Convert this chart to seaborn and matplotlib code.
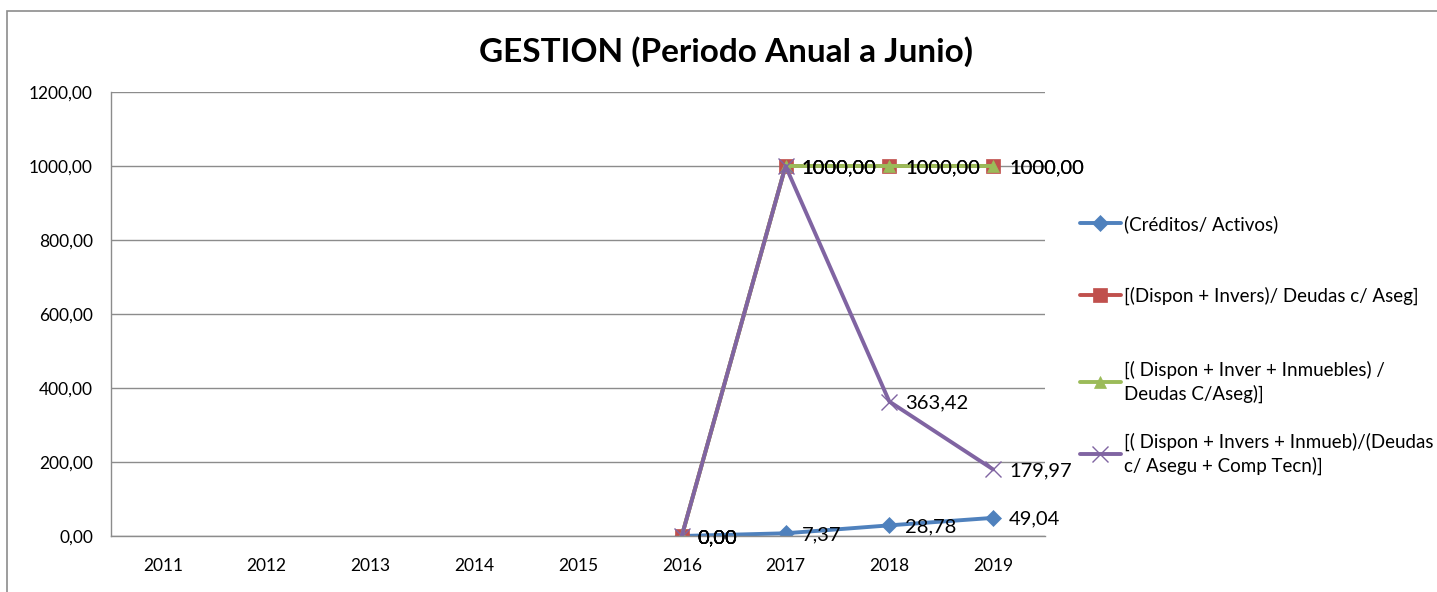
import matplotlib
matplotlib.use("Agg")
import matplotlib.pyplot as plt
import matplotlib.patches as mpatches
from matplotlib.ticker import FuncFormatter
import numpy as np
import pandas as pd
import seaborn as sns

# === DATA ===
years = [2011, 2012, 2013, 2014, 2015, 2016, 2017, 2018, 2019]
creditos_activos = [np.nan, np.nan, np.nan, np.nan, np.nan, 0.00, 7.37, 28.78, 49.04]
dispon_invers = [np.nan, np.nan, np.nan, np.nan, np.nan, 0.00, 1000.00, 1000.00, 1000.00]
dispon_inver_inmuebles = [np.nan, np.nan, np.nan, np.nan, np.nan, 0.00, 1000.00, 1000.00, 1000.00]
dispon_invers_inmueb_comp = [np.nan, np.nan, np.nan, np.nan, np.nan, 0.00, 1000.00, 363.42, 179.97]

series_names = [
    "(Créditos/ Activos)",
    "[(Dispon + Invers)/ Deudas c/ Aseg]",
    "[( Dispon + Inver + Inmuebles) /\nDeudas C/Aseg)]",
    "[( Dispon + Invers + Inmueb)/(Deudas\nc/ Asegu + Comp Tecn)]",
]
series_values = [creditos_activos, dispon_invers, dispon_inver_inmuebles, dispon_invers_inmueb_comp]
colors = ["#4F81BD", "#C0504D", "#9BBB59", "#8064A2"]
markers = ["D", "s", "^", "x"]
marker_sizes = [8, 10, 9, 12]

TITLE = "GESTION (Periodo Anual a Junio)"

# === STYLE ===
sns.set_style("white")
plt.rcParams["font.family"] = ["Lato", "DejaVu Sans"]
plt.rcParams["text.color"] = "black"
plt.rcParams["xtick.color"] = "black"
plt.rcParams["ytick.color"] = "black"

fig = plt.figure(figsize=(14.37, 5.92), dpi=100)
ax = fig.add_axes([111 / 1437, 56 / 592, 934 / 1437, 444 / 592])

for name, vals, col, mk, ms in zip(series_names, series_values, colors, markers, marker_sizes):
    df = pd.DataFrame({"year": years, "value": vals}).dropna()
    sns.lineplot(data=df, x="year", y="value", ax=ax, color=col, linewidth=2.8,
                 marker=mk, markersize=ms, markeredgecolor=col,
                 markeredgewidth=1.0 if mk == "x" else 0.5, label=name)
    for x, y in zip(df["year"], df["value"]):
        ax.annotate(f"{y:.2f}".replace(".", ","), (x, y), xytext=(11.5, -1),
                    textcoords="offset points", ha="left", va="center",
                    fontsize=14.5, color="black", zorder=10)

ax.set_xlim(2010.5, 2019.5)
ax.set_ylim(0, 1200)
ax.set_xticks(years)
ax.set_xticklabels([str(y) for y in years])
ax.set_yticks(np.arange(0, 1201, 200))
ax.yaxis.set_major_formatter(FuncFormatter(lambda v, p: f"{v:.2f}".replace(".", ",")))
ax.tick_params(axis="y", length=0, pad=13, labelsize=12.5)
ax.tick_params(axis="x", length=0, pad=16, labelsize=12.5)
ax.set_xlabel("")
ax.set_ylabel("")
ax.grid(axis="y", color="#8C8C8C", linewidth=1)
ax.set_axisbelow(True)
for s in ["top", "right"]:
    ax.spines[s].set_visible(False)
for s in ["left", "bottom"]:
    ax.spines[s].set_color("#8C8C8C")
    ax.spines[s].set_linewidth(1)

# legend: one entry per block, centred where the reference has them
ax.get_legend().remove()
handles, labels = ax.get_legend_handles_labels()
legend_y = [224, 296, 382, 454]
for h, lab, yc in zip(handles, labels, legend_y):
    leg = fig.legend([h], [lab], loc="center left", bbox_to_anchor=(1074 / 1437, 1 - yc / 592),
                     frameon=False, fontsize=13.5, handlelength=2.2, handletextpad=0.15,
                     borderaxespad=0, borderpad=0.3)
    for t in leg.get_texts():
        t.set_linespacing(1.4)

fig.text(726 / 1437, 1 - 52 / 592, TITLE, ha="center", va="center",
         fontsize=24, fontweight="bold", color="black")

# chart border
fig.patches.append(mpatches.Rectangle((7 / 1437, -0.1), 1.5, 1.1 - 11 / 592,
                                      transform=fig.transFigure, fill=False,
                                      edgecolor="#8C8C8C", linewidth=1.2))

plt.savefig("out.png", dpi=100)
plt.close()
